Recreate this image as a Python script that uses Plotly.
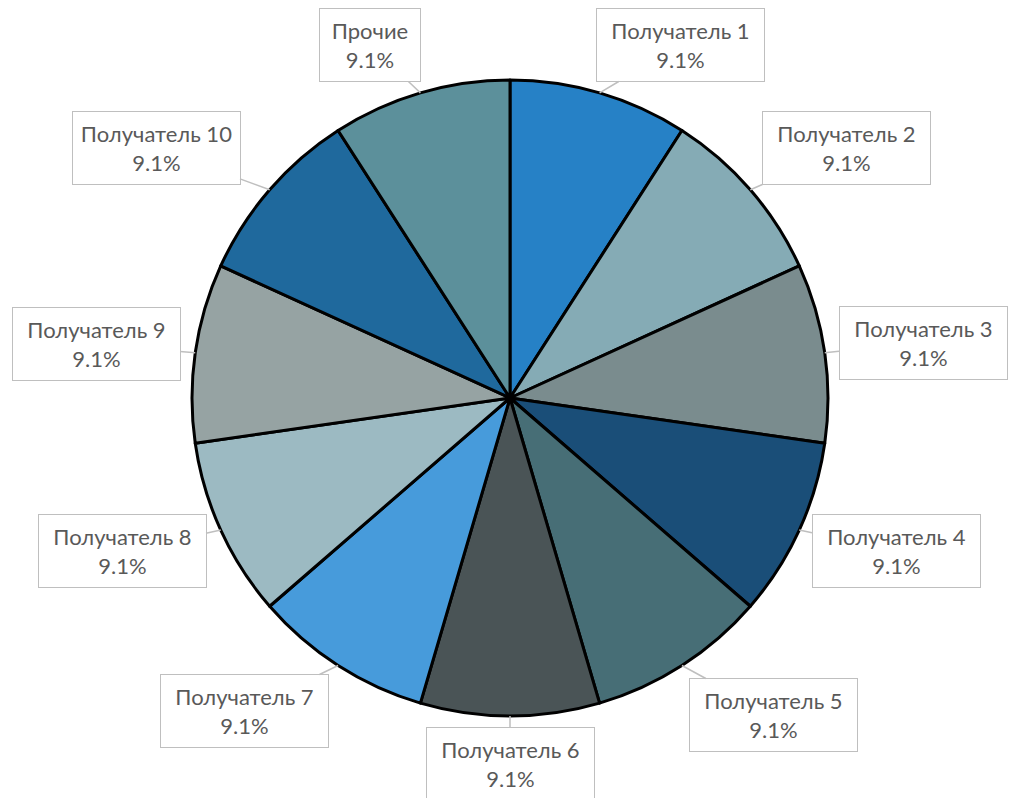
import math
import plotly.graph_objects as go

labels = ["Получатель 1", "Получатель 2", "Получатель 3", "Получатель 4", "Получатель 5",
          "Получатель 6", "Получатель 7", "Получатель 8", "Получатель 9", "Получатель 10", "Прочие"]
values = [1, 1, 1, 1, 1, 1, 1, 1, 1, 1, 1]
colors = ["#2681C6", "#85ABB5", "#7A8C8E", "#1A4E78", "#476E76", "#4A5456",
          "#479BDB", "#9CBAC2", "#96A3A3", "#1F699D", "#5C909B"]

# label box centres in pixels (layout only)
label_box = [(680, 45), (846, 148), (923, 343), (896, 551), (773, 715), (510, 764),
             (244, 711), (122, 551), (96, 344), (156, 148), (370, 45)]

W, H = 1009, 798
ML, MR, MT, MB = 11, 0, 80, 82
CX, CY, R = 510, 398, 318

fig = go.Figure(go.Pie(
    labels=labels, values=values, sort=False, direction="clockwise", rotation=0,
    marker=dict(colors=colors, line=dict(color="black", width=3)),
    textinfo="none", hoverinfo="label+percent", showlegend=False,
))

total = sum(values)
cum = 0
anns = []
for lab, v, (bx, by) in zip(labels, values, label_box):
    mid = (cum + v / 2) / total * 2 * math.pi
    cum += v
    tx = CX + R * math.sin(mid)
    ty = CY - R * math.cos(mid)
    pct = f"{v / total * 100:.1f}%"
    anns.append(dict(
        x=(tx - ML) / (W - ML - MR), y=(H - MB - ty) / (H - MT - MB),
        xref="paper", yref="paper",
        ax=bx - tx, ay=by - ty, axref="pixel", ayref="pixel",
        text=f"{lab}<br>{pct}", showarrow=True, arrowhead=0, arrowwidth=1.5,
        arrowcolor="#BFBFBF", standoff=0,
        width=151 if len(lab) > 8 else 84,
        bordercolor="#BFBFBF", borderwidth=1, borderpad=8, bgcolor="white",
        font=dict(family="Lato", size=22, color="#595959"), align="center",
    ))

fig.update_layout(
    width=W, height=H, margin=dict(l=ML, r=MR, t=MT, b=MB),
    paper_bgcolor="white", plot_bgcolor="white", annotations=anns,
)
fig.write_html("out.html", config={"displayModeBar": False},
               post_script="document.body.style.margin='0';")
